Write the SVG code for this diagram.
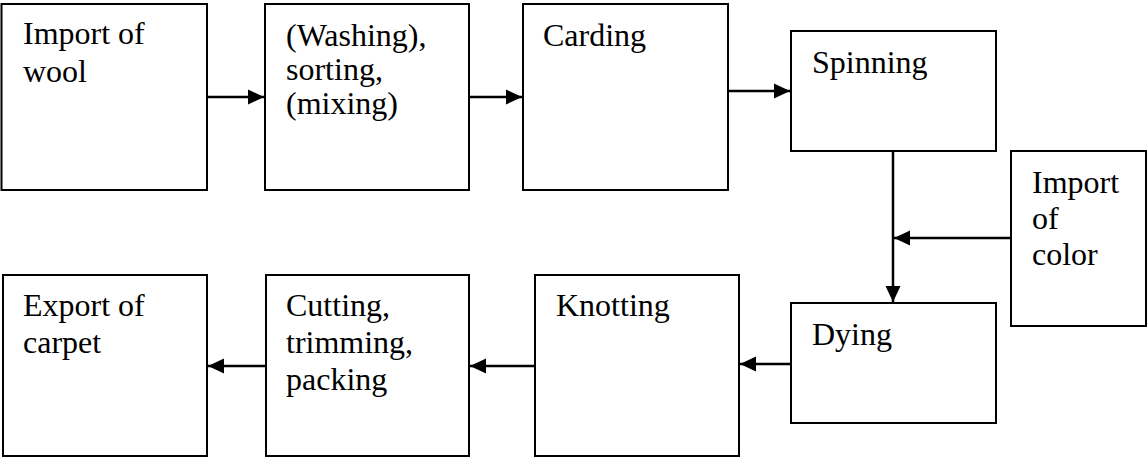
<svg xmlns="http://www.w3.org/2000/svg" width="1147" height="459" viewBox="0 0 1147 459">
<defs>
<marker id="ah" markerWidth="16" markerHeight="16" refX="16" refY="8" orient="auto" markerUnits="userSpaceOnUse">
<path d="M0,0.5 L16,8 L0,15.5 Z" fill="#000"/>
</marker>
<style>
.box{fill:#fff;stroke:#000;stroke-width:2}
text{font-family:'Liberation Serif','Times New Roman',serif;font-size:32px;fill:#000}
.c{stroke:#000;stroke-width:2.5;fill:none}
</style>
</defs>
<rect width="1147" height="459" fill="#fff"/>
<g id="n1"><rect class="box" x="1.5" y="4" width="205.5" height="186"/><text x="23" y="44"><tspan x="23">Import of</tspan><tspan x="23" dy="38">wool</tspan></text></g>
<g id="n2"><rect class="box" x="265" y="4" width="204" height="186"/><text x="286" y="46"><tspan x="286">(Washing),</tspan><tspan x="286" dy="34">sorting,</tspan><tspan x="286" dy="34">(mixing)</tspan></text></g>
<g id="n3"><rect class="box" x="523" y="4" width="205" height="186"/><text x="543" y="46">Carding</text></g>
<g id="n4"><rect class="box" x="791" y="31" width="205" height="120"/><text x="812" y="73">Spinning</text></g>
<g id="n5"><rect class="box" x="1011" y="151" width="135" height="175"/><text x="1032" y="193"><tspan x="1032">Import</tspan><tspan x="1032" dy="36">of</tspan><tspan x="1032" dy="36">color</tspan></text></g>
<g id="n6"><rect class="box" x="791" y="303" width="205" height="120"/><text x="812" y="345">Dying</text></g>
<g id="n7"><rect class="box" x="535" y="275" width="204" height="181"/><text x="556" y="316">Knotting</text></g>
<g id="n8"><rect class="box" x="266" y="275" width="203" height="181"/><text x="286" y="316"><tspan x="286">Cutting,</tspan><tspan x="286" dy="37">trimming,</tspan><tspan x="286" dy="37">packing</tspan></text></g>
<g id="n9"><rect class="box" x="3" y="275" width="204" height="181"/><text x="23" y="316"><tspan x="23">Export of</tspan><tspan x="23" dy="37">carpet</tspan></text></g>
<g id="connectors">
<line class="c" x1="207" y1="97" x2="264" y2="97" marker-end="url(#ah)"/>
<line class="c" x1="469" y1="97" x2="522" y2="97" marker-end="url(#ah)"/>
<line class="c" x1="728" y1="91" x2="790" y2="91" marker-end="url(#ah)"/>
<line class="c" x1="893" y1="151" x2="893" y2="302" marker-end="url(#ah)"/>
<line class="c" x1="1011" y1="238" x2="894" y2="238" marker-end="url(#ah)"/>
<line class="c" x1="791" y1="364" x2="740" y2="364" marker-end="url(#ah)"/>
<line class="c" x1="535" y1="366" x2="470" y2="366" marker-end="url(#ah)"/>
<line class="c" x1="266" y1="366" x2="208" y2="366" marker-end="url(#ah)"/>
</g>
</svg>
